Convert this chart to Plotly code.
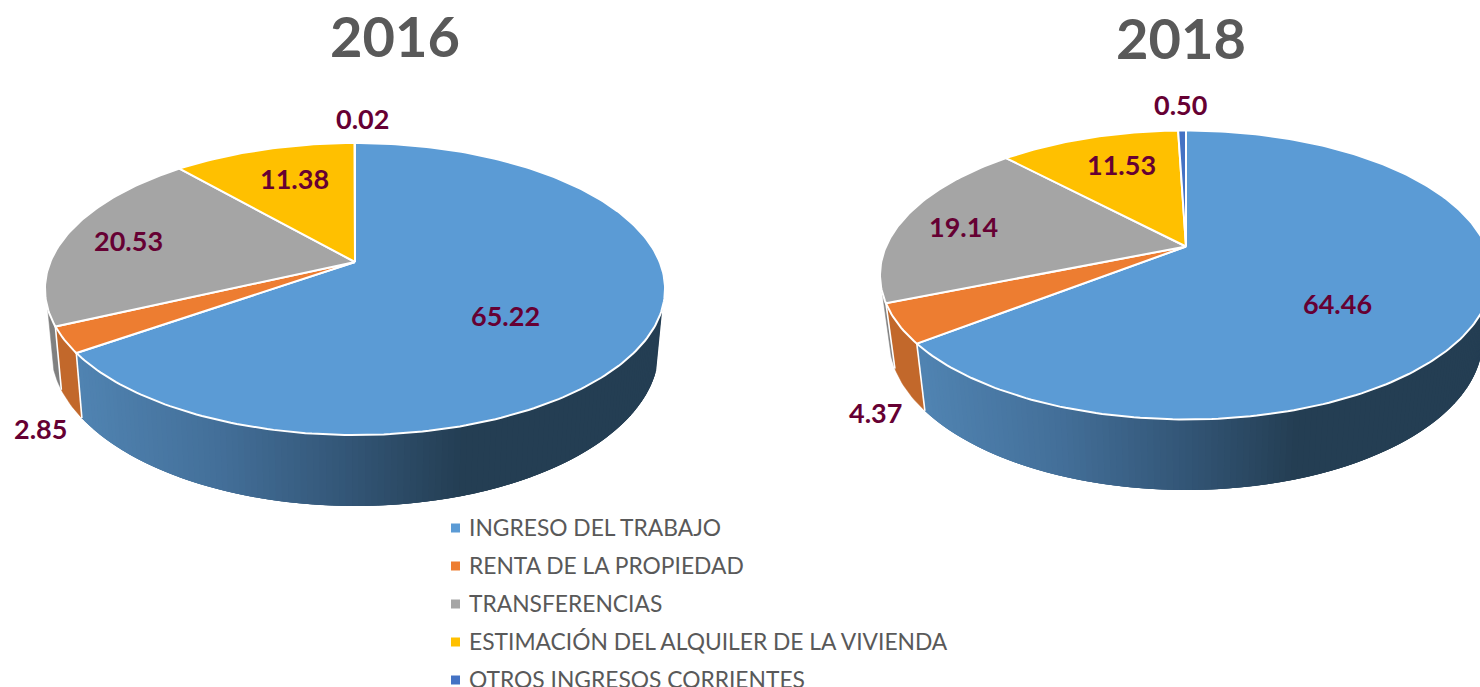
import numpy as np
import plotly.graph_objects as go

# ---------- data ----------
CATEGORIES = ["INGRESO DEL TRABAJO", "RENTA DE LA PROPIEDAD", "TRANSFERENCIAS",
              "ESTIMACIÓN DEL ALQUILER DE LA VIVIENDA", "OTROS INGRESOS CORRIENTES"]
YEARS = ["2016", "2018"]
VALUES_2016 = [65.22, 2.85, 20.53, 11.38, 0.02]
VALUES_2018 = [64.46, 4.37, 19.14, 11.53, 0.50]

# ---------- style ----------
TOP_COLORS = ["#5B9BD5", "#ED7D31", "#A5A5A5", "#FFC000", "#4472C4"]
SIDE_COLORS = [None, "#C2682B", "#808080", "#BF9000", "#335593"]
GRAD_STOPS = [(0.0, (80, 131, 177)), (0.35, (68, 112, 154)), (0.72, (50, 84, 116)), (1.0, (36, 62, 83))]
LABEL_COLOR = "#660033"
TITLE_COLOR = "#595959"
FONT = "Lato"

# ---------- perspective geometry of each pie, in pixels ----------
GEOM = {
    "2016": dict(cx=355, top=(304.7, 141.0, 262.0), low=(298.6, 151.0, 320.7), k=0.185, grad_x=(82, 465)),
    "2018": dict(cx=1186, top=(300.0, 138.9, 246.5), low=(291.0, 145.0, 309.4), k=0.197, grad_x=(925, 1300)),
}
TITLE_POS = {"2016": (395, 35), "2018": (1181, 37)}
LABEL_POS = {
    "2016": [(505, 315), (40, 428), (128, 240), (294, 178), (362, 118)],
    "2018": [(1337, 303), (875, 412), (963, 226), (1121, 164), (1180, 104)],
}
LEGEND_X, LEGEND_TEXT_X = 455.5, 469
LEGEND_Y = [527, 565, 603, 641, 679]
WALL_DEG = (108.0, 252.0)


def project(theta_deg, g, level):
    a, b, cy = g[level]
    t = np.radians(theta_deg)
    u, v = np.sin(t), np.cos(t)
    w = 1 + g["k"] * v
    return g["cx"] + a * u / w, cy - b * v / w


def grad(f):
    f = min(max(f, 0), 1)
    for (f0, c0), (f1, c1) in zip(GRAD_STOPS, GRAD_STOPS[1:]):
        if f <= f1:
            s = (f - f0) / (f1 - f0)
            return "rgb(%d,%d,%d)" % tuple(c0[i] + s * (c1[i] - c0[i]) for i in range(3))
    return "rgb(36,62,83)"


fig = go.Figure()


def poly(xs, ys, fill, line="rgba(0,0,0,0)", width=0):
    fig.add_trace(go.Scatter(x=list(xs), y=list(ys), mode="lines", fill="toself", fillcolor=fill,
                             line=dict(color=line, width=width), hoverinfo="skip", showlegend=False))


def draw_pie(year, values):
    g = GEOM[year]
    edges = np.concatenate([[0], np.cumsum(values)]) * 3.6
    # side wall
    for i, col in enumerate(SIDE_COLORS):
        s, e = max(edges[i], WALL_DEG[0]), min(edges[i + 1], WALL_DEG[1])
        if e <= s:
            continue
        if col is None:
            # opaque overlapping bands, painted from the dark end to the light end
            n = max(2, int(e - s))
            th = np.linspace(s, e, n + 1)
            for t0, t1 in zip(th[:-1], th[1:]):
                t_end = min(t0 + 3.0, e)
                arc = np.linspace(t1 - (t1 - t0), t_end, 5)
                tx, ty = project(arc, g, "top")
                lx, ly = project(arc[::-1], g, "low")
                f = (project((t0 + t1) / 2, g, "top")[0] - g["grad_x"][0]) / (g["grad_x"][1] - g["grad_x"][0])
                poly(np.r_[tx, lx, tx[0]], np.r_[ty, ly, ty[0]], grad(f))
        else:
            th = np.linspace(s, e, max(2, int(e - s)) + 1)
            tx, ty = project(th, g, "top")
            lx, ly = project(th[::-1], g, "low")
            poly(np.r_[tx, lx, tx[0]], np.r_[ty, ly, ty[0]], col, col, 0.5)
    # white seams between walls
    for ed in edges[1:-1]:
        if WALL_DEG[0] < ed < WALL_DEG[1]:
            x0, y0 = project(ed, g, "top"); x1, y1 = project(ed, g, "low")
            fig.add_trace(go.Scatter(x=[x0, x1], y=[y0, y1], mode="lines", hoverinfo="skip", showlegend=False,
                                     line=dict(color="#FFFFFF", width=1.6)))
    # top surface
    ax, ay = g["cx"], g["top"][2]
    for i in range(len(values)):
        th = np.linspace(edges[i], edges[i + 1], max(2, int(values[i] * 3.6)) + 1)
        x, y = project(th, g, "top")
        poly(np.r_[ax, x, ax], np.r_[ay, y, ay], TOP_COLORS[i], "#FFFFFF", 2)


draw_pie("2016", VALUES_2016)
draw_pie("2018", VALUES_2018)

# value labels
for year, values in zip(YEARS, (VALUES_2016, VALUES_2018)):
    for v, (x, y) in zip(values, LABEL_POS[year]):
        fig.add_annotation(x=x, y=y, text=f"<b>{v:.2f}</b>", showarrow=False, xanchor="center", yanchor="middle",
                           font=dict(family=FONT, size=27, color=LABEL_COLOR))
    tx, ty = TITLE_POS[year]
    fig.add_annotation(x=tx, y=ty, text=f"<b>{year}</b>", showarrow=False, xanchor="center", yanchor="middle",
                       font=dict(family=FONT, size=56, color=TITLE_COLOR))

# legend
for name, col, y in zip(CATEGORIES, TOP_COLORS, LEGEND_Y):
    fig.add_trace(go.Scatter(x=[LEGEND_X], y=[y + 1], mode="markers", hoverinfo="skip", showlegend=False,
                             marker=dict(symbol="square", size=9, color=col)))
    fig.add_annotation(x=LEGEND_TEXT_X, y=y, text=name, showarrow=False, xanchor="left", yanchor="middle",
                       xshift=-2, font=dict(family=FONT, size=22.8, color=TITLE_COLOR))

fig.update_layout(
    width=1480, height=687, margin=dict(l=0, r=0, t=0, b=0), showlegend=False,
    paper_bgcolor="white", plot_bgcolor="white",
    xaxis=dict(range=[0, 1480], visible=False, fixedrange=True),
    yaxis=dict(range=[687, 0], visible=False, fixedrange=True),
)
fig.write_html("out.html", config={"displayModeBar": False},
               post_script="document.body.style.margin='0';document.body.style.overflow='hidden';")
